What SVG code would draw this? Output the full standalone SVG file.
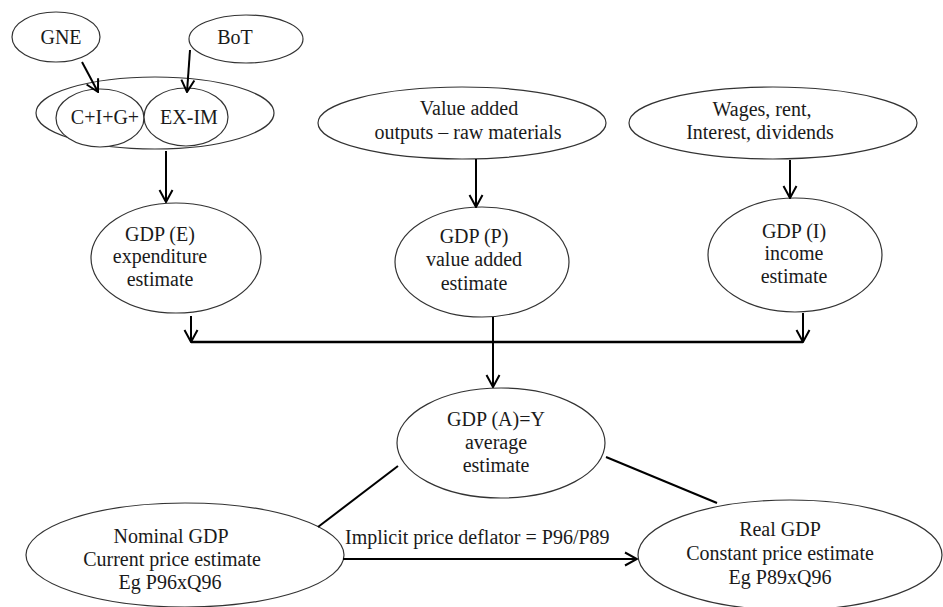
<svg xmlns="http://www.w3.org/2000/svg" width="943" height="607" viewBox="0 0 943 607" font-family="'Liberation Serif', 'Times New Roman', Times, 'DejaVu Serif', serif" font-size="20">
  <defs>
    <style>
      .node ellipse { fill: #ffffff; stroke: #333333; stroke-width: 1.2; }
      .node text { fill: #1a1a1a; text-anchor: middle; }
      .label { fill: #1a1a1a; text-anchor: start; }
      .conn line { stroke: #000000; stroke-width: 2; fill: none; }
      .conn .bus { stroke-width: 2.5; }
    </style>
    <marker id="vee" viewBox="0 0 14 16" refX="13" refY="8" markerWidth="14" markerHeight="16" markerUnits="userSpaceOnUse" orient="auto">
      <path d="M1,1.5 L13,8 L1,14.5" fill="none" stroke="#000000" stroke-width="2"/>
    </marker>
  </defs>
  <rect width="943" height="607" fill="#ffffff"/>

  <!-- expenditure side -->
  <g id="gne" class="node">
    <ellipse cx="56" cy="37" rx="44" ry="25"/>
    <text x="61" y="44">GNE</text>
  </g>
  <g id="bot" class="node">
    <ellipse cx="246" cy="39" rx="57" ry="24"/>
    <text x="235" y="44">BoT</text>
  </g>
  <g id="spending" class="node">
    <ellipse cx="155" cy="113" rx="119" ry="36"/>
  </g>
  <g id="cig" class="node">
    <ellipse cx="100" cy="118" rx="44" ry="29"/>
    <text x="105" y="124">C+I+G+</text>
  </g>
  <g id="exim" class="node">
    <ellipse cx="186" cy="117" rx="42" ry="29"/>
    <text x="189" y="124">EX-IM</text>
  </g>
  <g id="gdp-e" class="node">
    <ellipse cx="176" cy="258" rx="85" ry="55"/>
    <text x="160" y="241">GDP (E)</text>
    <text x="160" y="263">expenditure</text>
    <text x="160" y="286">estimate</text>
  </g>

  <!-- production side -->
  <g id="value-added" class="node">
    <ellipse cx="462" cy="123" rx="144" ry="36"/>
    <text x="469" y="115">Value added</text>
    <text x="468" y="139">outputs – raw materials</text>
  </g>
  <g id="gdp-p" class="node">
    <ellipse cx="482" cy="262" rx="87" ry="55"/>
    <text x="474" y="243">GDP (P)</text>
    <text x="474" y="266">value added</text>
    <text x="474" y="290">estimate</text>
  </g>

  <!-- income side -->
  <g id="factor-income" class="node">
    <ellipse cx="773" cy="123" rx="144" ry="36"/>
    <text x="762" y="116">Wages, rent,</text>
    <text x="760" y="139">Interest, dividends</text>
  </g>
  <g id="gdp-i" class="node">
    <ellipse cx="795" cy="255" rx="87" ry="57"/>
    <text x="794" y="238">GDP (I)</text>
    <text x="794" y="260">income</text>
    <text x="794" y="283">estimate</text>
  </g>

  <!-- combined estimate and price measures -->
  <g id="gdp-a" class="node">
    <ellipse cx="501" cy="443" rx="104" ry="55"/>
    <text x="496" y="426">GDP (A)=Y</text>
    <text x="496" y="449">average</text>
    <text x="496" y="472">estimate</text>
  </g>
  <g id="nominal" class="node">
    <ellipse cx="185" cy="555" rx="159" ry="52"/>
    <text x="171" y="543">Nominal GDP</text>
    <text x="172" y="566">Current price estimate</text>
    <text x="170" y="589">Eg P96xQ96</text>
  </g>
  <g id="real" class="node">
    <ellipse cx="790" cy="555" rx="152" ry="55"/>
    <text x="780" y="536">Real GDP</text>
    <text x="780" y="560">Constant price estimate</text>
    <text x="780" y="584">Eg P89xQ96</text>
  </g>

  <g id="connectors" class="conn">
    <line x1="82" y1="62" x2="98" y2="92" marker-end="url(#vee)"/>
    <line x1="190" y1="50" x2="187" y2="92" marker-end="url(#vee)"/>
    <line x1="166" y1="151" x2="166" y2="202" marker-end="url(#vee)"/>
    <line x1="476" y1="159" x2="476" y2="207" marker-end="url(#vee)"/>
    <line x1="790" y1="160" x2="790" y2="198" marker-end="url(#vee)"/>
    <line x1="191" y1="316" x2="191" y2="342" marker-end="url(#vee)"/>
    <line x1="803" y1="313" x2="803" y2="342" marker-end="url(#vee)"/>
    <line class="bus" x1="191" y1="342" x2="803" y2="342"/>
    <line x1="493" y1="317" x2="493" y2="387" marker-end="url(#vee)"/>
    <line x1="318" y1="527" x2="398" y2="466"/>
    <line x1="606" y1="457" x2="717" y2="503"/>
    <line x1="343" y1="559" x2="637" y2="559" marker-end="url(#vee)"/>
    <text class="label" x="345" y="544">Implicit price deflator = P96/P89</text>
  </g>
</svg>
